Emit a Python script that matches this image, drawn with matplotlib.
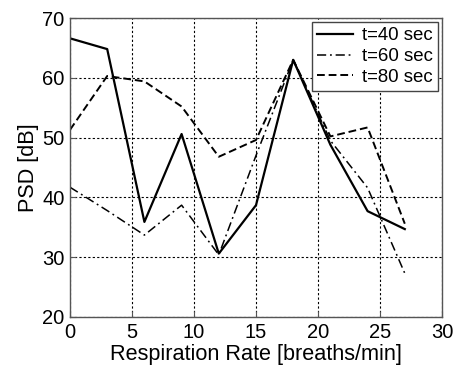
import numpy as np
import matplotlib.pyplot as plt

plt.rcParams['font.family'] = ['Liberation Sans', 'DejaVu Sans']

# frecuencia respiratoria (respiraciones/min)
tasa = [0, 3, 6, 9, 12, 15, 18, 21, 24, 27]

# PSD [dB] para cada ventana de tiempo
psd_40 = [66.6, 64.8, 35.9, 50.6, 30.6, 38.7, 63.0, 48.8, 37.7, 34.7]
psd_60 = [41.7, 37.8, 33.7, 38.7, 30.4, 47.0, 63.0, 49.5, 41.6, 27.3]
psd_80 = [51.3, 60.3, 59.4, 55.2, 46.8, 49.6, 63.0, 50.2, 51.7, 35.6]

etiquetas = ['t=40 sec', 't=60 sec', 't=80 sec']

fig = plt.figure(figsize=(4.58, 3.67), dpi=100)
ax = fig.add_axes([70 / 458, 1 - 317 / 367, 372 / 458, 299 / 367])

ax.plot(tasa, psd_40, color='black', linestyle='-', linewidth=1.6, label=etiquetas[0])
ax.plot(tasa, psd_60, color='black', linestyle=(0, (6, 2.5, 1.2, 2.5)), linewidth=1.1, label=etiquetas[1])
ax.plot(tasa, psd_80, color='black', linestyle=(0, (4, 2)), linewidth=1.4, label=etiquetas[2])

ax.set_xlim(0, 30)
ax.set_ylim(20, 70)
ax.set_xticks(np.arange(0, 31, 5))
ax.set_yticks(np.arange(20, 71, 10))
ax.grid(True, color='black', linestyle=(0, (2, 2)), linewidth=0.8)
ax.tick_params(direction='in', length=4, labelsize=14.5, color='#555555')
ax.tick_params(axis='y', pad=4)
ax.tick_params(axis='x', pad=4)
for lado in ax.spines.values():
    lado.set_color('#555555')
    lado.set_linewidth(1.0)

ax.set_xlabel('Respiration Rate [breaths/min]', fontsize=15.6, labelpad=2)
ax.set_ylabel('PSD [dB]', fontsize=15.6, labelpad=2)

leg = ax.legend(loc='upper right', fontsize=13.4, fancybox=False, framealpha=1,
                edgecolor='#444444', borderpad=0.3, labelspacing=0.2,
                handlelength=1.9, handletextpad=0.5, borderaxespad=0.2)
leg.get_frame().set_linewidth(1.0)

fig.savefig('out.png', dpi=100)
